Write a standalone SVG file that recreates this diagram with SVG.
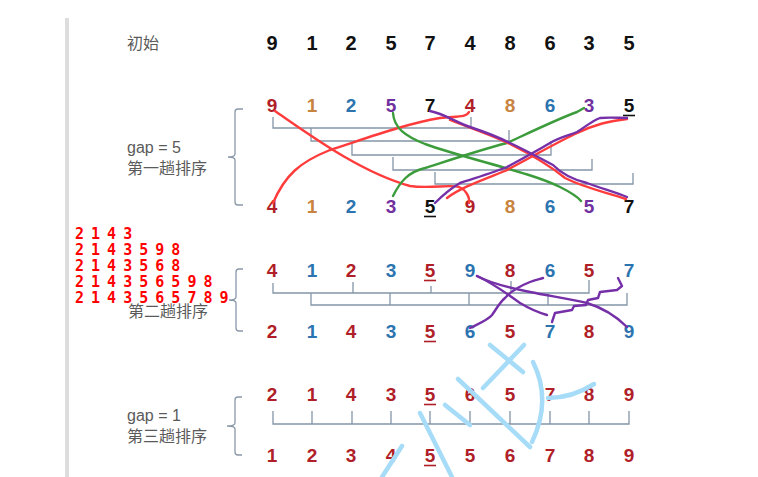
<svg xmlns="http://www.w3.org/2000/svg" width="758" height="477" viewBox="0 0 758 477">
<style>
.n{font-family:"Liberation Sans",sans-serif;font-weight:bold;font-size:19px;text-anchor:middle}
.i{font-family:"Liberation Sans",sans-serif;font-weight:bold;font-size:20px;text-anchor:middle;fill:#111}
.lb{font-family:"Liberation Sans","Noto Sans CJK SC",sans-serif;font-size:16px;fill:#5a5a5a}
.r{fill:#b01e28}.o{fill:#c8843e}.b{fill:#2c74b0}.p{fill:#7030a0}.k{fill:#111}
.u{stroke-width:1.6}
.c{fill:none;stroke:#8495a8;stroke-width:1.3}
.br{fill:none;stroke:#8a98a8;stroke-width:1.3}
.hr{fill:none;stroke:#ff3c3c;stroke-width:2.4;stroke-linecap:round;stroke-linejoin:round}
.hg{fill:none;stroke:#3c9c3c;stroke-width:2.4;stroke-linecap:round;stroke-linejoin:round}
.hp{fill:none;stroke:#7530a8;stroke-width:2.4;stroke-linecap:round;stroke-linejoin:round}
.w{fill:none;stroke:#a6dcf8;stroke-width:4.5;stroke-linecap:round}
.rt{font-family:"DejaVu Sans Mono",monospace;font-weight:bold;font-size:15px;fill:#ff0000;letter-spacing:-1px}
</style>
<rect width="758" height="477" fill="#ffffff"/>
<rect x="65" y="18" width="4" height="459" fill="#dddddd"/>

<g id="initial">
<text class="lb" x="127" y="49">初始</text>
<text class="i" x="272" y="50">9</text><text class="i" x="312" y="50">1</text><text class="i" x="351" y="50">2</text><text class="i" x="391" y="50">5</text><text class="i" x="430" y="50">7</text><text class="i" x="470" y="50">4</text><text class="i" x="510" y="50">8</text><text class="i" x="550" y="50">6</text><text class="i" x="589" y="50">3</text><text class="i" x="629" y="50">5</text>
</g>

<g id="pass1">
<text class="lb" x="127" y="153">gap = 5</text>
<text class="lb" x="127" y="174">第一趟排序</text>
<path class="br" d="M243,109 L238,109 Q235,109 235,112 L235,154 Q235,157 228,157 Q235,157 235,160 L235,202 Q235,205 238,205 L243,205"/>
<g id="p1top">
<text class="n r" x="272" y="112">9</text><text class="n o" x="312" y="112">1</text><text class="n b" x="351" y="112">2</text><text class="n p" x="391" y="112">5</text><text class="n k" x="430" y="112">7</text><text class="n r" x="470" y="112">4</text><text class="n o" x="510" y="112">8</text><text class="n b" x="550" y="112">6</text><text class="n p" x="589" y="112">3</text><text class="n k" x="629" y="112">5</text>
<line x1="623" y1="115.5" x2="635" y2="115.5" stroke="#111" class="u"/>
</g>
<g id="p1bot">
<text class="n r" x="272" y="213">4</text><text class="n o" x="312" y="213">1</text><text class="n b" x="351" y="213">2</text><text class="n p" x="391" y="213">3</text><text class="n k" x="430" y="213">5</text><text class="n r" x="470" y="213">9</text><text class="n o" x="510" y="213">8</text><text class="n b" x="550" y="213">6</text><text class="n p" x="589" y="213">5</text><text class="n k" x="629" y="213">7</text>
<line x1="424" y1="216.5" x2="436" y2="216.5" stroke="#111" class="u"/>
</g>
</g>

<g id="pass2">
<text class="lb" x="128" y="317">第二趟排序</text>
<path class="br" d="M243,269 L239,269 Q236,269 236,272 L236,297 Q236,300 229,300 Q236,300 236,303 L236,328 Q236,331 239,331 L243,331"/>
<g id="p2top">
<text class="n r" x="272" y="277">4</text><text class="n b" x="312" y="277">1</text><text class="n r" x="351" y="277">2</text><text class="n b" x="391" y="277">3</text><text class="n r" x="430" y="277">5</text><text class="n b" x="470" y="277">9</text><text class="n r" x="510" y="277">8</text><text class="n b" x="550" y="277">6</text><text class="n r" x="589" y="277">5</text><text class="n b" x="629" y="277">7</text>
<line x1="424" y1="280.5" x2="436" y2="280.5" stroke="#b01e28" class="u"/>
</g>
<g id="p2bot">
<text class="n r" x="272" y="338">2</text><text class="n b" x="312" y="338">1</text><text class="n r" x="351" y="338">4</text><text class="n b" x="391" y="338">3</text><text class="n r" x="430" y="338">5</text><text class="n b" x="470" y="338">6</text><text class="n r" x="510" y="338">5</text><text class="n b" x="550" y="338">7</text><text class="n r" x="589" y="338">8</text><text class="n b" x="629" y="338">9</text>
<line x1="424" y1="341.5" x2="436" y2="341.5" stroke="#b01e28" class="u"/>
</g>
</g>

<g id="pass3">
<text class="lb" x="127" y="421">gap = 1</text>
<text class="lb" x="127" y="442">第三趟排序</text>
<path class="br" d="M242,397 L238,397 Q235,397 235,400 L235,423 Q235,426 227,426 Q235,426 235,429 L235,452 Q235,455 238,455 L242,455"/>
<g id="p3top">
<text class="n r" x="272" y="401">2</text><text class="n r" x="312" y="401">1</text><text class="n r" x="351" y="401">4</text><text class="n r" x="391" y="401">3</text><text class="n r" x="430" y="401">5</text><text class="n r" x="470" y="401">6</text><text class="n r" x="510" y="401">5</text><text class="n r" x="550" y="401">7</text><text class="n r" x="589" y="401">8</text><text class="n r" x="629" y="401">9</text>
<line x1="424" y1="404.5" x2="436" y2="404.5" stroke="#b01e28" class="u"/>
</g>
<g id="p3bot">
<text class="n r" x="272" y="462">1</text><text class="n r" x="312" y="462">2</text><text class="n r" x="351" y="462">3</text><text class="n r" x="391" y="462">4</text><text class="n r" x="430" y="462">5</text><text class="n r" x="470" y="462">5</text><text class="n r" x="510" y="462">6</text><text class="n r" x="550" y="462">7</text><text class="n r" x="589" y="462">8</text><text class="n r" x="629" y="462">9</text>
<line x1="424" y1="465.5" x2="436" y2="465.5" stroke="#b01e28" class="u"/>
</g>
</g>

<g id="connectors">
<path class="c" d="M273,117 V128 H471 V117"/>
<path class="c" d="M311,128 V141 H509 V130"/>
<path class="c" d="M352,143 V155 H551 V141"/>
<path class="c" d="M393,157 V170 H592 V159"/>
<path class="c" d="M435,172 V184 H633 V173"/>
<path class="c" d="M273,283 V293 H589 V280 M353,282 V293 M431,286 V293 M511,281 V293"/>
<path class="c" d="M311,293 V305 H627 V293 M390,293 V305 M469,293 V305 M548,293 V305"/>
<path class="c" d="M273,411 V424 H629 V411 M312,411 V424 M352,411 V424 M391,411 V424 M430,411 V424 M470,411 V424 M510,411 V424 M550,411 V424 M589,411 V424"/>
</g>

<g id="handdrawn">
<path class="hr" d="M275,111 C310,135 360,172 410,186 C430,189 450,184 459,187 C466,190 470,197 469,203"/>
<path class="hr" d="M273,203 C285,175 300,162 330,150 C370,137 405,124 440,118 C455,116 466,118 469,112"/>
<path class="hg" d="M393,113 C394,128 405,136 425,144 C470,160 530,172 560,187 C570,192 577,196 581,201"/>
<path class="hg" d="M393,196 C400,182 408,172 425,168 C450,160 480,150 507,143 C535,130 560,118 577,112 L584,108"/>
<path class="hr" d="M450,120 C470,128 490,134 510,144 C530,154 548,164 565,178 C585,188 605,192 626,199"/>
<path class="hr" d="M447,198 C460,188 480,181 505,171 C530,158 550,146 575,134 C595,124 610,121 627,119"/>
<path class="hp" d="M430,111 C445,114 455,122 470,127 C485,132 500,138 510,143 C525,150 540,158 553,165 C560,172 570,179 587,183 C600,188 615,192 627,197"/>
<path class="hp" d="M435,203 C440,198 448,190 460,183 C475,178 495,172 507,167 C520,160 535,152 550,143 C560,137 570,135 577,132 C585,127 592,121 600,118 C610,117 620,118 627,118"/>
<path class="hp" d="M477,276 C490,282 505,292 520,303 C530,309 540,313 547,315"/>
<path class="hp" d="M477,276 C490,283 505,287 530,292 C550,296 570,299 587,303 C600,307 615,315 627,327"/>
<path class="hp" d="M470,328 C480,323 488,320 492,315 C497,308 500,302 505,298 C512,290 520,286 530,282 C535,280 540,279 543,278"/>
<path class="hp" d="M552,322 L555,313 L572,310 L574,306 L586,305 L588,300 L598,298 L600,292 L617,290 L622,286 L618,278"/>
</g>

<g id="watermark">
<path class="w" d="M458,379 L530,447"/>
<path class="w" d="M490,345 L523,372"/>
<path class="w" d="M524,345 L483,388"/>
<path class="w" d="M533,362 Q552,400 532,442"/>
<path class="w" d="M548,398 Q572,398 594,384"/>
<path class="w" d="M420,413 L452,477"/>
<path class="w" d="M382,477 L402,446"/>
<path class="w" d="M445,405 L470,425"/>
</g>

<g id="notes">
<text class="rt" x="75" y="239">2 1 4 3</text>
<text class="rt" x="75" y="255">2 1 4 3 5 9 8</text>
<text class="rt" x="75" y="271">2 1 4 3 5 6 8</text>
<text class="rt" x="75" y="287">2 1 4 3 5 6 5 9 8</text>
<text class="rt" x="75" y="303">2 1 4 3 5 6 5 7 8 9</text>
</g>
</svg>
